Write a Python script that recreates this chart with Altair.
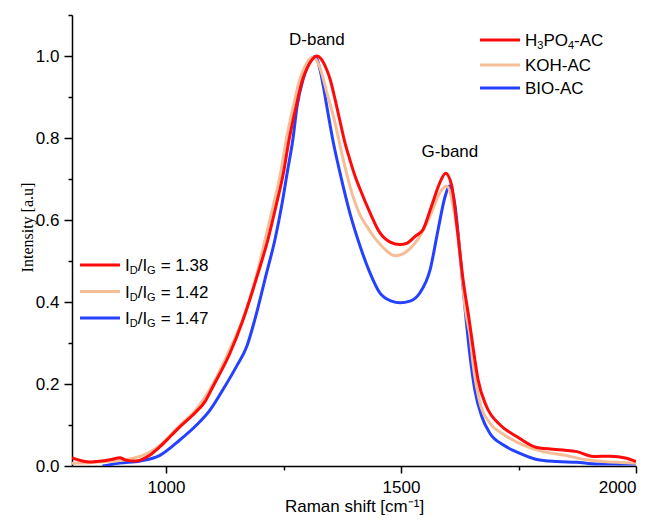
import altair as alt
import pandas as pd

# ---------------- data ----------------
h3_wn = [800, 838, 881, 902, 913, 934, 966, 987, 1009, 1030, 1062, 1083, 1100, 1136, 1164,
         1196, 1217, 1234, 1250, 1262, 1277, 1291, 1300, 1310, 1321, 1330, 1340, 1349, 1360,
         1370, 1380, 1391, 1402, 1413, 1434, 1455, 1477, 1498, 1512, 1530, 1547, 1565, 1583,
         1595, 1608, 1619, 1632, 1645, 1654, 1664, 1682, 1711, 1746, 1789, 1845, 1874, 1909,
         1945, 1980, 2000]
h3_i = [0.020, 0.010, 0.015, 0.020, 0.015, 0.012, 0.027, 0.047, 0.072, 0.096, 0.130, 0.157,
        0.194, 0.275, 0.357, 0.471, 0.553, 0.634, 0.716, 0.797, 0.878, 0.944, 0.970, 0.990,
        1.000, 0.993, 0.972, 0.944, 0.893, 0.842, 0.792, 0.748, 0.708, 0.675, 0.618, 0.569,
        0.546, 0.540, 0.543, 0.560, 0.577, 0.634, 0.692, 0.714, 0.683, 0.585, 0.455, 0.357,
        0.284, 0.210, 0.145, 0.100, 0.072, 0.045, 0.039, 0.035, 0.023, 0.024, 0.019, 0.011]

koh_wn = [800, 860, 923, 966, 987, 1030, 1062, 1100, 1136, 1164, 1196, 1211, 1228, 1244, 1256,
          1271, 1285, 1296, 1305, 1313, 1320, 1328, 1342, 1360, 1377, 1391, 1413, 1427, 1445,
          1462, 1487, 1505, 1519, 1536, 1562, 1583, 1597, 1611, 1626, 1636, 1647, 1654, 1668,
          1689, 1717, 1760, 1802, 1845, 1895, 1930, 2000]
koh_i = [0.007, 0.010, 0.017, 0.034, 0.050, 0.100, 0.135, 0.200, 0.285, 0.360, 0.480, 0.553,
         0.634, 0.716, 0.797, 0.878, 0.944, 0.975, 0.992, 0.997, 0.990, 0.970, 0.912, 0.835,
         0.748, 0.684, 0.612, 0.585, 0.555, 0.533, 0.513, 0.518, 0.530, 0.553, 0.610, 0.667,
         0.683, 0.634, 0.512, 0.390, 0.316, 0.243, 0.154, 0.105, 0.078, 0.051, 0.035, 0.027,
         0.015, 0.011, 0.007]

bio_wn = [865, 902, 945, 987, 1030, 1065, 1094, 1121, 1150, 1172, 1189, 1214, 1232, 1246, 1258,
          1270, 1279, 1292, 1300, 1308, 1316, 1322, 1328, 1335, 1342, 1356, 1370, 1391, 1413,
          1434, 1455, 1480, 1498, 1519, 1540, 1562, 1579, 1594, 1603, 1615, 1624, 1633, 1647,
          1657, 1672, 1689, 1718, 1753, 1789, 1831, 1874, 1916, 2000]
bio_i = [0.000, 0.007, 0.012, 0.026, 0.064, 0.100, 0.137, 0.186, 0.243, 0.292, 0.357, 0.471,
         0.553, 0.634, 0.716, 0.797, 0.878, 0.944, 0.972, 0.993, 0.998, 0.990, 0.965, 0.925,
         0.878, 0.789, 0.716, 0.618, 0.536, 0.471, 0.422, 0.402, 0.398, 0.402, 0.422, 0.479,
         0.577, 0.658, 0.683, 0.634, 0.536, 0.423, 0.267, 0.186, 0.120, 0.080, 0.051, 0.031,
         0.016, 0.011, 0.009, 0.005, 0.005]

ratios = ["1.38", "1.42", "1.47"]
names = ["H3PO4-AC", "KOH-AC", "BIO-AC"]
bands = ["D-band", "G-band"]
band_wn = [1321, 1604]
band_i = [1.038, 0.767]

RED = "#ff0a0a"
PEACH = "#f5be96"
BLUE = "#2441ff"
FONT = "Liberation Sans"

# ---------------- scales / axes ----------------
x_scale = alt.Scale(domain=[800, 2000], nice=False, zero=False)
y_scale = alt.Scale(domain=[0, 1.1], nice=False)

x_axis = alt.Axis(
    values=[1000, 1250, 1500, 1750, 2000],
    labelExpr="datum.value % 500 == 0 ? format(datum.value, 'd') : ''",
    tickSize={"condition": {"test": "datum.value % 500 != 0", "value": 4}, "value": 7},
    grid=False, domainColor="black", domainWidth=1.5, tickColor="black", tickWidth=1.5,
    labelFont=FONT, labelFontSize=17, labelColor="black", labelPadding=6,
    title="Raman shift [cm⁻¹]", titleFont=FONT, titleFontSize=17, titleFontWeight="normal",
    titleColor="black", titleY=45, titleBaseline="alphabetic",
)
y_axis = alt.Axis(
    values=[0, 0.1, 0.2, 0.3, 0.4, 0.5, 0.6, 0.7, 0.8, 0.9, 1.0, 1.1],
    labelExpr="round(datum.value * 10) % 2 == 0 && datum.value < 1.05 ? format(datum.value, '.1f') : ''",
    tickSize={"condition": {"test": "round(datum.value * 10) % 2 == 1", "value": 4}, "value": 8},
    grid=False, domainColor="black", domainWidth=1.5, tickColor="black", tickWidth=1.5,
    labelFont=FONT, labelFontSize=17, labelColor="black", labelPadding=5,
    title="Intensity [a.u]", titleFont="Liberation Serif", titleFontSize=16,
    titleFontWeight="normal", titleColor="black", titleX=-40, titleY=212,
    titleBaseline="alphabetic",
)


def spectrum(wn, inten, color):
    df = pd.DataFrame({"wn": wn, "I": inten})
    return alt.Chart(df).mark_line(
        color=color, strokeWidth=3, interpolate="monotone", clip=True
    ).encode(
        x=alt.X("wn:Q", scale=x_scale, axis=x_axis),
        y=alt.Y("I:Q", scale=y_scale, axis=y_axis),
    )


layers = [spectrum(bio_wn, bio_i, BLUE), spectrum(koh_wn, koh_i, PEACH), spectrum(h3_wn, h3_i, RED)]

# band annotations
band_df = pd.DataFrame({"wn": band_wn, "I": band_i, "t": bands})
layers.append(
    alt.Chart(band_df).mark_text(font=FONT, fontSize=17, color="black", baseline="middle").encode(
        x=alt.X("wn:Q", scale=x_scale, axis=x_axis),
        y=alt.Y("I:Q", scale=y_scale, axis=y_axis),
        text="t:N",
    )
)

# ---------------- manual legends (with sub-scripts) ----------------
W = {"H": .722, "P": .667, "O": .778, "-": .333, "A": .667, "C": .722, "K": .667, "B": .667,
     "I": .278, "D": .722, "G": .778, "/": .278, " ": .278, "=": .584, ".": .278}


def tw(s, size):
    return sum(W.get(c, .556) for c in s) * size


dummy = pd.DataFrame({"a": [0]})
MAIN, SUB = 17, 11


def legend_row(x_line, y, color, pieces):
    out = [alt.Chart(dummy).mark_rule(color=color, strokeWidth=3).encode(
        x=alt.value(x_line), x2=alt.value(x_line + 40), y=alt.value(y))]
    x = x_line + 45
    for text, sub, gap in pieces:
        size = SUB if sub else MAIN
        x += gap
        out.append(alt.Chart(dummy).mark_text(
            font=FONT, fontSize=size, color="black", align="left", baseline="middle"
        ).encode(x=alt.value(x), y=alt.value(y + (6 if sub else 1)), text=alt.value(text)))
        x += tw(text, size)
    return out


top_rows = [
    [("H", False, 0), ("3", True, 0), ("PO", False, 0), ("4", True, 0), ("-AC", False, 0)],
    [(names[1], False, 0)],
    [(names[2], False, 0)],
]
colors = [RED, PEACH, BLUE]
for k, (yy, pcs) in enumerate(zip([25, 50, 73], top_rows)):
    layers += legend_row(408, yy, colors[k], pcs)

for k, yy in enumerate([250, 276.5, 303]):
    pcs = [("I", False, 0), ("D", True, 0), ("/I", False, 0), ("G", True, 0),
           ("= " + ratios[k], False, 5)]
    layers += legend_row(8, yy, colors[k], pcs)

chart = alt.layer(*layers).properties(
    width=564, height=451,
    autosize=alt.AutoSizeParams(type="none"),
    padding={"left": 64, "top": 7, "right": 14, "bottom": 58},
).configure_view(stroke=None)

chart.save("out.html", embed_options={"renderer": "svg", "actions": False})
